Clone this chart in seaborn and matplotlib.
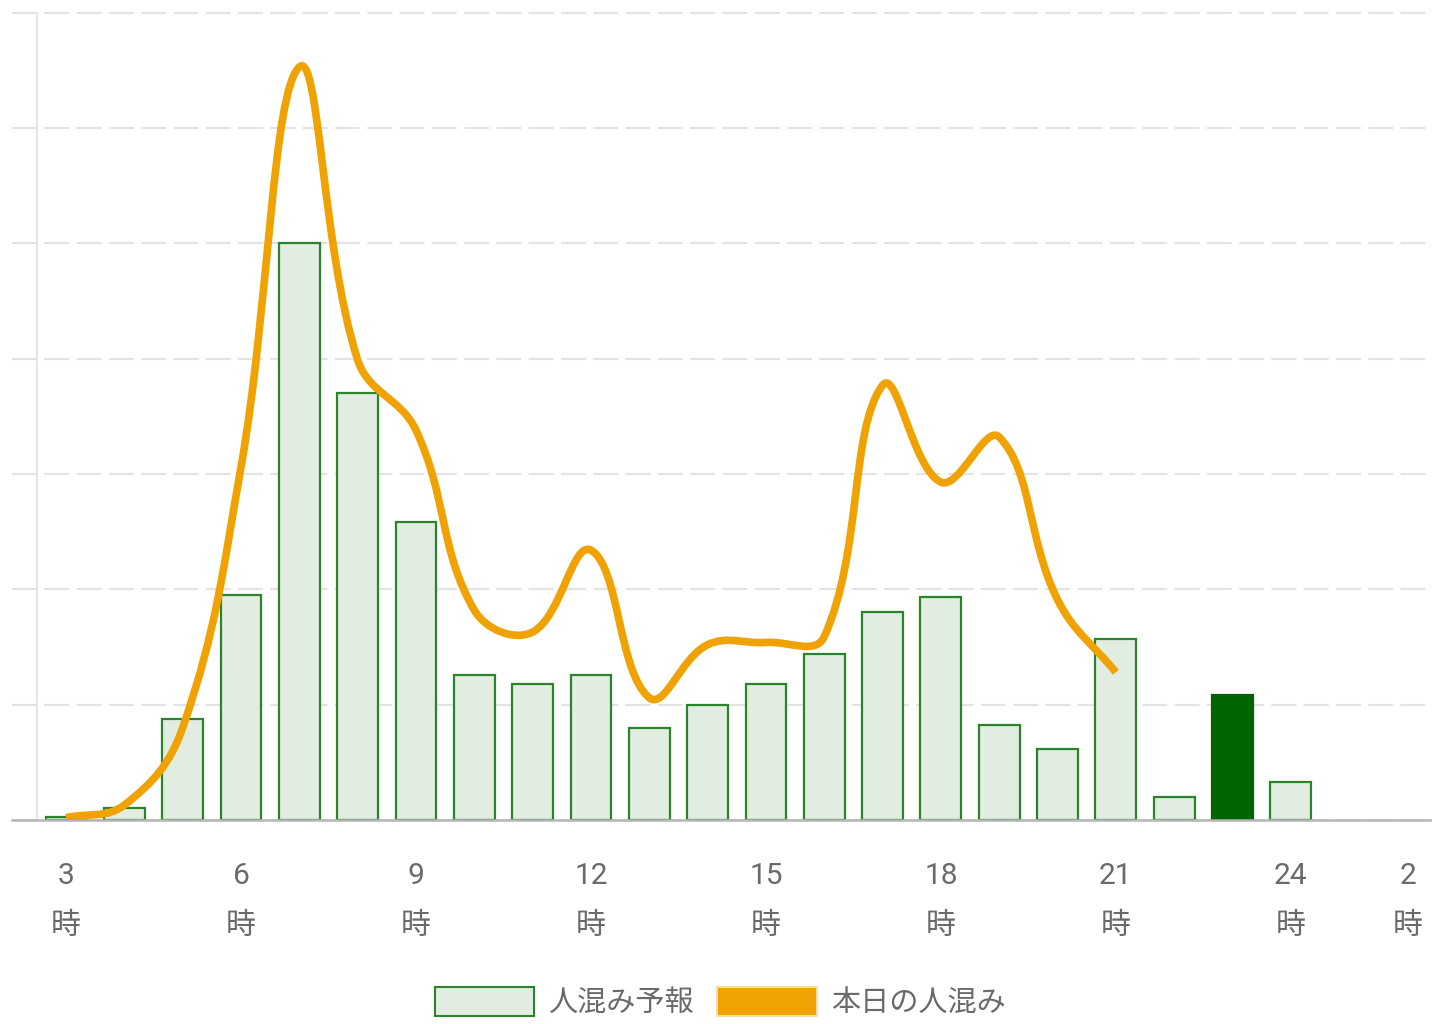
import numpy as np
import pandas as pd
import matplotlib
matplotlib.use("Agg")
import matplotlib.pyplot as plt
from matplotlib.path import Path
from matplotlib.patches import PathPatch, Patch
import seaborn as sns

# 予報（棒）: 時刻ごとの混雑度
hours = [3, 4, 5, 6, 7, 8, 9, 10, 11, 12, 13, 14, 15, 16, 17, 18, 19, 20, 21, 22, 23, 24]
forecast = [0.03, 0.10, 0.88, 1.95, 5.00, 3.70, 2.58, 1.26, 1.18, 1.26, 0.80, 1.00,
            1.18, 1.44, 1.80, 1.93, 0.82, 0.62, 1.57, 0.20, 1.08, 0.33]
current_hour = 23

# 本日の人混み（線）
today_hours = [3, 4, 5, 6, 7, 8, 9, 10, 11, 12, 13, 14, 15, 16, 17, 18, 19, 20, 21]
today = [0.02, 0.13, 0.80, 3.06, 6.53, 3.99, 3.38, 1.82, 1.63, 2.34, 1.06, 1.52,
         1.54, 1.59, 3.77, 2.93, 3.32, 1.91, 1.28]

tick_hours = [3, 6, 9, 12, 15, 18, 21, 24, 26]
tick_labels = ["3", "6", "9", "12", "15", "18", "21", "24", "2"]

fill_c = "#e2ede2"
edge_c = "#2a842a"
dark_c = "#006400"
orange = "#f0a202"
text_c = "#6a6a6a"

sns.set_theme(style="white")
plt.rcParams['font.family'] = ['Roboto', 'Noto Sans CJK JP', 'DejaVu Sans']

fig = plt.figure(figsize=(14.32, 10.24), dpi=100)
ax = fig.add_axes([12 / 1432, 204 / 1024, 1 - 12 / 1432, 813 / 1024])

df = pd.DataFrame({"hour": hours, "value": forecast})
sns.barplot(data=df, x="hour", y="value", native_scale=True, width=0.7,
            color=fill_c, edgecolor=edge_c, linewidth=1.6, saturation=1, ax=ax)
for h, p in zip(hours, ax.patches):
    if h == current_hour:
        p.set_facecolor(dark_c)
        p.set_edgecolor(dark_c)

# 本日の人混み: 点を通る滑らかな曲線 (tension 0.4)
xs = np.array(today_hours, dtype=float)
ys = np.array(today, dtype=float)
sy = 115.3 / 58.33
t = 0.4
n = len(xs)
cp_prev, cp_next = [], []
for i in range(n):
    p0 = (xs[max(i - 1, 0)], ys[max(i - 1, 0)])
    p1 = (xs[i], ys[i])
    p2 = (xs[min(i + 1, n - 1)], ys[min(i + 1, n - 1)])
    d01 = np.hypot(p1[0] - p0[0], (p1[1] - p0[1]) * sy)
    d12 = np.hypot(p2[0] - p1[0], (p2[1] - p1[1]) * sy)
    tot = d01 + d12 if d01 + d12 > 0 else 1
    fa, fb = t * d01 / tot, t * d12 / tot
    cp_prev.append((p1[0] - fa * (p2[0] - p0[0]), p1[1] - fa * (p2[1] - p0[1])))
    cp_next.append((p1[0] + fb * (p2[0] - p0[0]), p1[1] + fb * (p2[1] - p0[1])))
verts = [(xs[0], ys[0])]
codes = [Path.MOVETO]
for i in range(1, n):
    verts += [cp_next[i - 1], cp_prev[i], (xs[i], ys[i])]
    codes += [Path.CURVE4] * 3
ax.add_patch(PathPatch(Path(verts, codes), facecolor="none", edgecolor=orange,
                       lw=5.5, capstyle="butt", joinstyle="round", zorder=5))

ax.set_xlim(2.074, 26.42)
ax.set_ylim(0, 7.05)
ax.set_yticks(range(0, 8))
ax.set_yticklabels([])
ax.set_xticks(tick_hours)
ax.set_xticklabels([f"{l}\n時" for l in tick_labels], linespacing=2.0)
ax.tick_params(axis="x", length=0, pad=30, labelsize=21.5, colors=text_c)
ax.tick_params(axis="y", length=0)
ax.set_xlabel("")
ax.set_ylabel("")
ax.grid(axis="y", color="#e3e3e3", lw=1.5, linestyle=(0, (12, 3.5)))
ax.grid(axis="x", visible=False)
ax.set_axisbelow(True)
for s in ["left", "right", "top"]:
    ax.spines[s].set_visible(False)
ax.spines["bottom"].set_color("#b5b5b5")
ax.spines["bottom"].set_linewidth(1.8)
ax.axvline(2.5, ymin=0, ymax=7 / 7.05, color="#e6e6e6", lw=1.5, zorder=0)

handles = [Patch(facecolor=fill_c, edgecolor=edge_c, lw=1.5),
           Patch(facecolor=orange, edgecolor="#f7dcb0", lw=1.5)]
fig.legend(handles, ["人混み予報", "本日の人混み"], loc="center",
           bbox_to_anchor=(0.503, 0.021), ncol=2, frameon=False,
           handlelength=3.4, handleheight=1.2,
           handletextpad=0.5, columnspacing=0.8, labelcolor=text_c,
           prop={'family': ['Noto Sans CJK JP'], 'size': 21})

fig.savefig("out.png", dpi=100, facecolor="white")
